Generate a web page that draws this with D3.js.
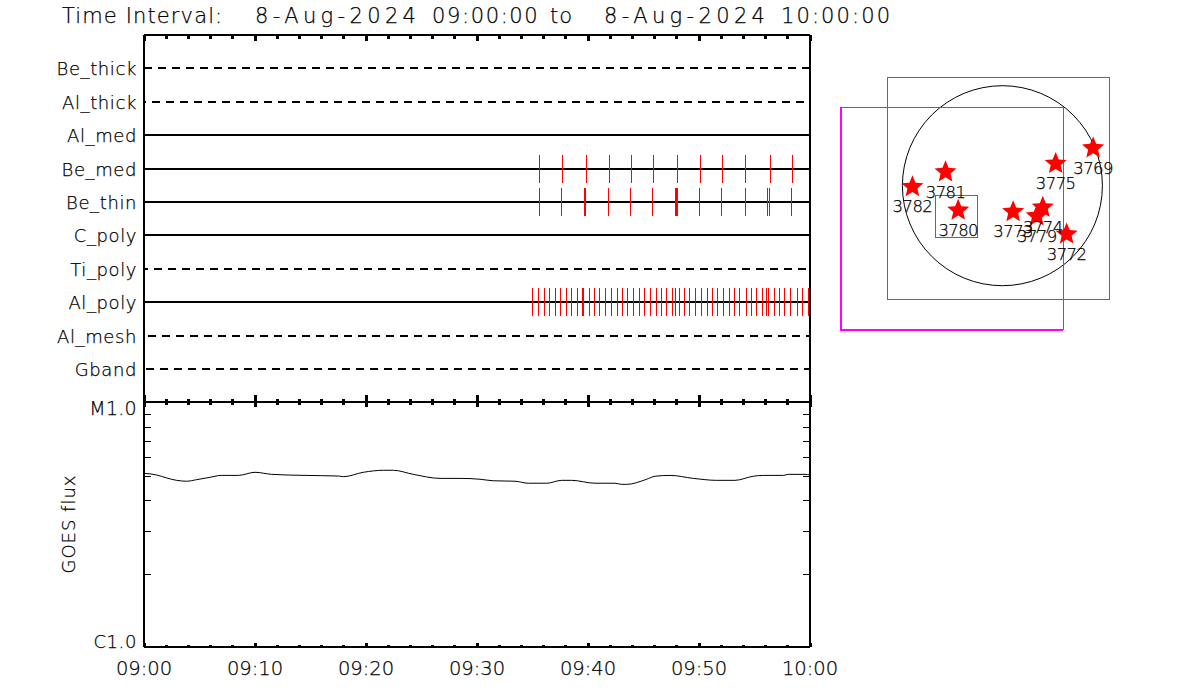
<!DOCTYPE html>
<html>
<head>
<meta charset="utf-8">
<script src="https://cdnjs.cloudflare.com/ajax/libs/d3/7.8.5/d3.min.js"></script>
<style>
html,body{margin:0;padding:0;background:#fff;}
text{font-family:"DejaVu Sans";font-weight:200;fill:#000;stroke:#000;stroke-width:0.25px;}
</style>
</head>
<body>
<svg id="chart" width="1200" height="700"></svg>
<script>
// ---------- data ----------
const titleParts = ["Time Interval:","8-Aug-2024","09:00:00","to","8-Aug-2024","10:00:00"];
const filters = ["Be_thick","Al_thick","Al_med","Be_med","Be_thin","C_poly","Ti_poly","Al_poly","Al_mesh","Gband"];
const dashedFilters = ["Be_thick","Al_thick","Ti_poly","Al_mesh","Gband"];
// exposure times, minutes after 09:00
const beMedTimes = [35.6,37.7,39.85,41.9,43.9,45.9,48.05,50.1,52.1,54.1,56.4,58.4];
const beThinTimes = [35.6,37.6,39.65,39.75,41.8,43.8,45.8,47.85,47.95,48.05,50.0,52.0,54.1,56.15,56.3,58.3];
const alPolyTimes = [34.98,35.52,36.06,36.51,37.05,37.5,38.04,38.5,39.04,39.49,39.55,40.12,40.57,41.02,41.56,42.1,42.64,43.09,43.54,44.08,44.62,45.07,45.61,46.15,46.6,47.05,47.59,47.8,47.86,48.22,48.67,49.12,49.67,50.21,50.75,51.2,51.65,52.19,52.73,53.18,53.63,54.26,54.71,55.16,55.7,56.0,56.06,56.24,56.78,57.23,57.68,58.22,58.85,59.3,59.85];
const timeTickLabels = ["09:00","09:10","09:20","09:30","09:40","09:50","10:00"];
// GOES flux, minutes after 09:00 and flux in units of C1.0
const goesTimes = [0,1.14,2.04,2.94,3.84,4.74,5.95,7.0,8.5,10.0,11.5,14.5,17.5,17.96,19.76,21.56,22.46,24.26,26.67,28.47,30.27,31.47,33.42,34.62,36.28,37.63,38.53,40.63,42.43,43.03,43.48,45.29,46.04,47.39,49.49,51.59,53.24,54.89,55.8,57.6,58.05,59.55,60];
const goesFlux = [5.15,5.07,4.93,4.82,4.78,4.85,4.96,5.05,5.05,5.20,5.10,5.05,5.02,4.99,5.20,5.30,5.30,5.10,4.91,4.91,4.87,4.80,4.78,4.69,4.69,4.82,4.82,4.69,4.69,4.64,4.64,4.87,5.01,5.05,4.91,4.82,4.82,5.01,5.05,5.05,5.10,5.10,5.07];
const fluxMinorTicks = [2,3,4,5,6,7,8,9];
// solar map, arcsec from disk centre
const solarRadius = 948;
const regionIds = ["3781","3782","3780","3773","3774","3779","3772","3775","3769"];
const regionX = [-539,-853,-419,102,383,326,609,505,860];
const regionY = [130,-11,-234,-247,-206,-288,-460,209,357];
const fovX0 = [-1528,-1094,-640];
const fovX1 = [575,1008,-245];
const fovY0 = [-1358,-1071,-487];
const fovY1 = [745,1032,-90];

// ---------- layout ----------
const svg = d3.select("#chart");
const L = 144, R = 810, T = 35, M = 403, B = 647;
const x = d3.scaleLinear().domain([0,60]).range([L,R]);
const rowY = d3.scalePoint().domain(filters).range([68.2,369.2]);
const yRow = f => Math.round(rowY(f));
const yFlux = d3.scaleLog().domain([1,10]).range([B,M]);
const disk = {cx:1002.4, cy:185.7, r:100};
const mx = d3.scaleLinear().domain([-solarRadius,solarRadius]).range([disk.cx-disk.r,disk.cx+disk.r]);
const my = d3.scaleLinear().domain([-solarRadius,solarRadius]).range([disk.cy+disk.r,disk.cy-disk.r]);
const dashOffset = {Be_thick:0, Al_thick:-8, Ti_poly:4, Al_mesh:-4, Gband:-2};

// title
const titleX = [62,255,432,550,604,781];
const titleW = [168,172,114,30,172,109];
const title = svg.append("text").attr("y",23).attr("font-size",21);
titleParts.forEach((p,i)=>{
  title.append("tspan").attr("x",titleX[i]).attr("textLength",titleW[i])
    .attr("lengthAdjust","spacing").text(p + (i<titleParts.length-1?" ":""));
});

// filter rows
const rows = svg.append("g");
rows.selectAll("line").data(filters).join("line")
  .attr("x1",L).attr("x2",R)
  .attr("y1",yRow).attr("y2",yRow)
  .attr("stroke","#000").attr("stroke-width",2)
  .attr("shape-rendering","crispEdges")
  .attr("stroke-dasharray",f=>dashedFilters.includes(f)?"8 6":null)
  .attr("stroke-dashoffset",f=>dashedFilters.includes(f)?dashOffset[f]:null);
rows.selectAll("text").data(filters).join("text")
  .attr("x",137).attr("y",f=>yRow(f)+6.5)
  .attr("text-anchor","end").attr("font-size",18).attr("letter-spacing",0.6).text(f=>f);

// exposures
const exposures = [["Be_med",beMedTimes],["Be_thin",beThinTimes],["Al_poly",alPolyTimes]];
exposures.forEach(([f,times])=>{
  svg.append("g").selectAll("line").data(times).join("line")
    .attr("x1",d=>Math.round(x(d))+0.5).attr("x2",d=>Math.round(x(d))+0.5)
    .attr("y1",yRow(f)-14).attr("y2",yRow(f)+14)
    .attr("stroke","#ff0000").attr("stroke-width",1).attr("shape-rendering","crispEdges");
});

// frames
const frame = svg.append("g").attr("stroke","#000").attr("stroke-width",2).attr("shape-rendering","crispEdges");
[[L,T,L,B],[R,T,R,B],[L,T,R,T],[L,M-1,R,M-1],[L,B,R,B]].forEach(s=>{
  frame.append("line").attr("x1",s[0]).attr("y1",s[1]).attr("x2",s[2]).attr("y2",s[3]);
});

// time axes (ticks every 2 min, major every 10)
const minor = d3.range(0,61,2);
const isMajor = d=>d%10===0;
const ticksG = svg.append("g").attr("stroke","#000").attr("stroke-width",3).attr("shape-rendering","crispEdges");
ticksG.selectAll(".t").data(minor).join("line").attr("x1",x).attr("x2",x)
  .attr("y1",T).attr("y2",d=>T+(isMajor(d)?6:4));
ticksG.selectAll(".m").data(minor,d=>"m"+d).join("line").attr("x1",x).attr("x2",x)
  .attr("y1",d=>M-1-(isMajor(d)?7:3)).attr("y2",d=>M-1+(isMajor(d)?5:3));
ticksG.selectAll(".b").data(minor,d=>"b"+d).join("line").attr("x1",x).attr("x2",x)
  .attr("y1",B).attr("y2",d=>B-(isMajor(d)?4:2));

// time labels
svg.append("g").selectAll("text").data(timeTickLabels).join("text")
  .attr("x",(d,i)=>x(i*10)).attr("y",675)
  .attr("text-anchor","middle").attr("font-size",19.5).text(d=>d);

// flux axis
const fluxTicks = svg.append("g").attr("stroke","#000").attr("stroke-width",1).attr("shape-rendering","crispEdges");
[[L,L+7],[R,R-7]].forEach(([a,b])=>{
  fluxTicks.append("g").selectAll("line").data(fluxMinorTicks).join("line")
    .attr("x1",a).attr("x2",b).attr("y1",d=>Math.round(yFlux(d))).attr("y2",d=>Math.round(yFlux(d)));
});
svg.append("text").attr("x",137).attr("y",415).attr("text-anchor","end").attr("font-size",19).attr("letter-spacing",0.3).text("M1.0");
svg.append("text").attr("x",137).attr("y",647.5).attr("text-anchor","end").attr("font-size",18).attr("letter-spacing",0.6).text("C1.0");
svg.append("text").attr("transform","translate(75,524) rotate(-90)").attr("text-anchor","middle")
  .attr("font-size",18).attr("letter-spacing",1).text("GOES flux");

// flux curve
const goesLine = d3.line().x((d,i)=>x(goesTimes[i])).y(d=>yFlux(d)).curve(d3.curveMonotoneX);
svg.append("path").attr("d",goesLine(goesFlux)).attr("fill","none").attr("stroke","#000").attr("stroke-width",1);

// solar map
const map = svg.append("g");
map.append("circle").attr("cx",mx(0)).attr("cy",my(0)).attr("r",mx(solarRadius)-mx(0))
  .attr("fill","none").attr("stroke","#000").attr("stroke-width",1);
map.selectAll("rect").data(fovX0).join("rect")
  .attr("x",(d,i)=>Math.round(mx(fovX0[i]))+0.5)
  .attr("y",(d,i)=>Math.round(my(fovY1[i]))+0.5)
  .attr("width",(d,i)=>Math.round(mx(fovX1[i]))-Math.round(mx(fovX0[i])))
  .attr("height",(d,i)=>Math.round(my(fovY0[i]))-Math.round(my(fovY1[i])))
  .attr("fill","none").attr("stroke","#ff00ff").attr("stroke-width",1).attr("shape-rendering","crispEdges");
// the first field of view has heavier left and bottom edges
const x0 = Math.round(mx(fovX0[0])), x1 = Math.round(mx(fovX1[0]));
const y0 = Math.round(my(fovY1[0])), y1 = Math.round(my(fovY0[0]));
map.append("path").attr("d",`M${x0-0.5},${y0}V${y1+1.5}H${x1}`)
  .attr("fill","none").attr("stroke","#ff00ff").attr("stroke-width",1).attr("shape-rendering","crispEdges");

const starType = {draw(ctx,size){
  const r = Math.sqrt(size), inner = r*0.45;
  for(let k=0;k<10;k++){
    const a = -Math.PI/2 + k*Math.PI/5, q = k%2?inner:r;
    const px = q*Math.cos(a), py = q*Math.sin(a);
    k?ctx.lineTo(px,py):ctx.moveTo(px,py);
  }
  ctx.closePath();
}};
const star = d3.symbol().type(starType).size(135);
map.selectAll("path.star").data(regionIds).join("path").attr("class","star")
  .attr("d",star())
  .attr("transform",(d,i)=>`translate(${mx(regionX[i])},${my(regionY[i])})`)
  .attr("fill","#ff0000");
map.selectAll("text").data(regionIds).join("text")
  .attr("x",(d,i)=>mx(regionX[i])).attr("y",(d,i)=>my(regionY[i])+25.6)
  .attr("text-anchor","middle").attr("font-size",16.5).attr("letter-spacing",-0.6).text(d=>d);
</script>
</body>
</html>
